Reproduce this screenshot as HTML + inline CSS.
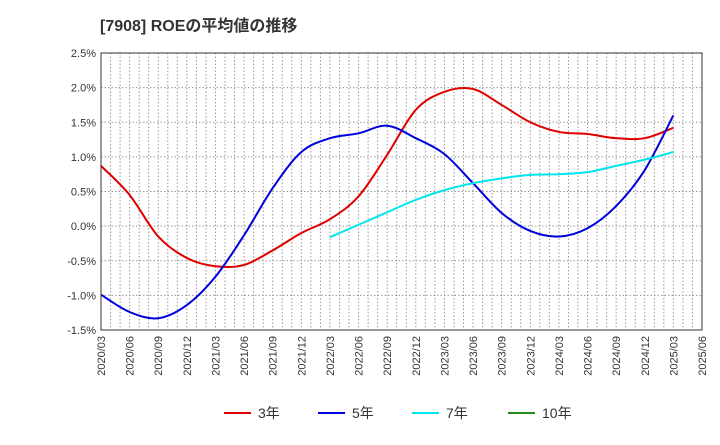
<!DOCTYPE html>
<html><head><meta charset="utf-8"><style>
body{margin:0;background:#fff;font-family:"Liberation Sans","Noto Sans CJK JP",sans-serif}
</style></head><body>
<svg id="c" width="720" height="440" xmlns="http://www.w3.org/2000/svg" style="font-family:'Liberation Sans','Noto Sans CJK JP',sans-serif">
<text x="100" y="31" font-size="16" font-weight="bold" fill="#333">[7908]  ROEの平均値の推移</text>
<g id="grid"></g><g id="series"></g><g id="axes"></g><g id="legend"></g>
</svg>
<script>
const xLabels=["2020/03","2020/06","2020/09","2020/12","2021/03","2021/06","2021/09","2021/12","2022/03","2022/06","2022/09","2022/12","2023/03","2023/06","2023/09","2023/12","2024/03","2024/06","2024/09","2024/12","2025/03","2025/06"];
const yTicks=[-1.5,-1.0,-0.5,0,0.5,1.0,1.5,2.0,2.5];
const yTickLabels=["-1.5%","-1.0%","-0.5%","0.0%","0.5%","1.0%","1.5%","2.0%","2.5%"];
const roe3=[0.87,0.45,-0.15,-0.46,-0.58,-0.56,-0.35,-0.1,0.1,0.43,1.03,1.68,1.94,1.98,1.75,1.5,1.36,1.33,1.27,1.27,1.42];
const roe5=[-0.99,-1.24,-1.33,-1.14,-0.73,-0.13,0.55,1.07,1.27,1.34,1.45,1.27,1.04,0.62,0.19,-0.07,-0.15,-0.03,0.29,0.81,1.6];
const roe7=[null,null,null,null,null,null,null,null,-0.16,0.02,0.2,0.38,0.52,0.62,0.69,0.74,0.75,0.78,0.87,0.96,1.07];
const roe10=[];
const L=101,R=702,T=53,B=330,NS="http://www.w3.org/2000/svg";
const xs=i=>L+i*(R-L)/(xLabels.length-1);
const ys=v=>T+(2.5-v)/4*(B-T);
function mk(t,a,p){const e=document.createElementNS(NS,t);for(const k in a)e.setAttribute(k,a[k]);p.appendChild(e);return e;}
const grid=document.getElementById('grid'),axes=document.getElementById('axes'),ser=document.getElementById('series'),leg=document.getElementById('legend');
const nm=(xLabels.length-1)*3;
for(let m=1;m<nm;m++){const x=L+m*(R-L)/nm;const l=mk('line',{x1:x,x2:x,y1:T,y2:B,stroke:'#999','stroke-dasharray':'1.5,2','stroke-width':1},grid);

}
yTicks.forEach((v,i)=>{const y=ys(v);const l=mk('line',{x1:L,x2:R,y1:y,y2:y,stroke:'#999','stroke-dasharray':'1.5,2'},grid);


const t=mk('text',{x:L-5,y:y+4,'text-anchor':'end','font-size':11,fill:'#333'},axes);t.textContent=yTickLabels[i];

});
const fr=mk('rect',{x:L,y:T,width:R-L,height:B-T,fill:'none',stroke:'#333','stroke-width':1},axes);


xLabels.forEach((s,i)=>{const x=xs(i);const t=mk('text',{x:x+4,y:B+6,'text-anchor':'end','font-size':11,fill:'#333',transform:`rotate(-90 ${x+4} ${B+6})`},axes);t.textContent=s;

});
function path(vals){const p=[];vals.forEach((v,i)=>{if(v!=null)p.push([xs(i),ys(v)]);});if(!p.length)return '';
let d=`M${p[0][0]},${p[0][1]}`;for(let i=0;i<p.length-1;i++){const p0=p[i-1]||p[i],p1=p[i],p2=p[i+1],p3=p[i+2]||p2;
d+=` C${p1[0]+(p2[0]-p0[0])/6},${p1[1]+(p2[1]-p0[1])/6} ${p2[0]-(p3[0]-p1[0])/6},${p2[1]-(p3[1]-p1[1])/6} ${p2[0]},${p2[1]}`;}return d;}
const S=[[roe3,'#e00000','3年','series-3yr'],[roe5,'#0000dd','5年','series-5yr'],[roe7,'#00e5ee','7年','series-7yr'],[roe10,'#228b22','10年','series-10yr']];
const lx=[224,318,412,508];
S.forEach((s,k)=>{const d=path(s[0]);if(d){const e=mk('path',{d:d,fill:'none',stroke:s[1],'stroke-width':2},ser);

}
const g=mk('g',{},leg);


mk('line',{x1:lx[k],x2:lx[k]+27,y1:413,y2:413,stroke:s[1],'stroke-width':2},g);
const t=mk('text',{x:lx[k]+34,y:418,'font-size':14,fill:'#333'},g);t.textContent=s[2];});
</script>
</body></html>
